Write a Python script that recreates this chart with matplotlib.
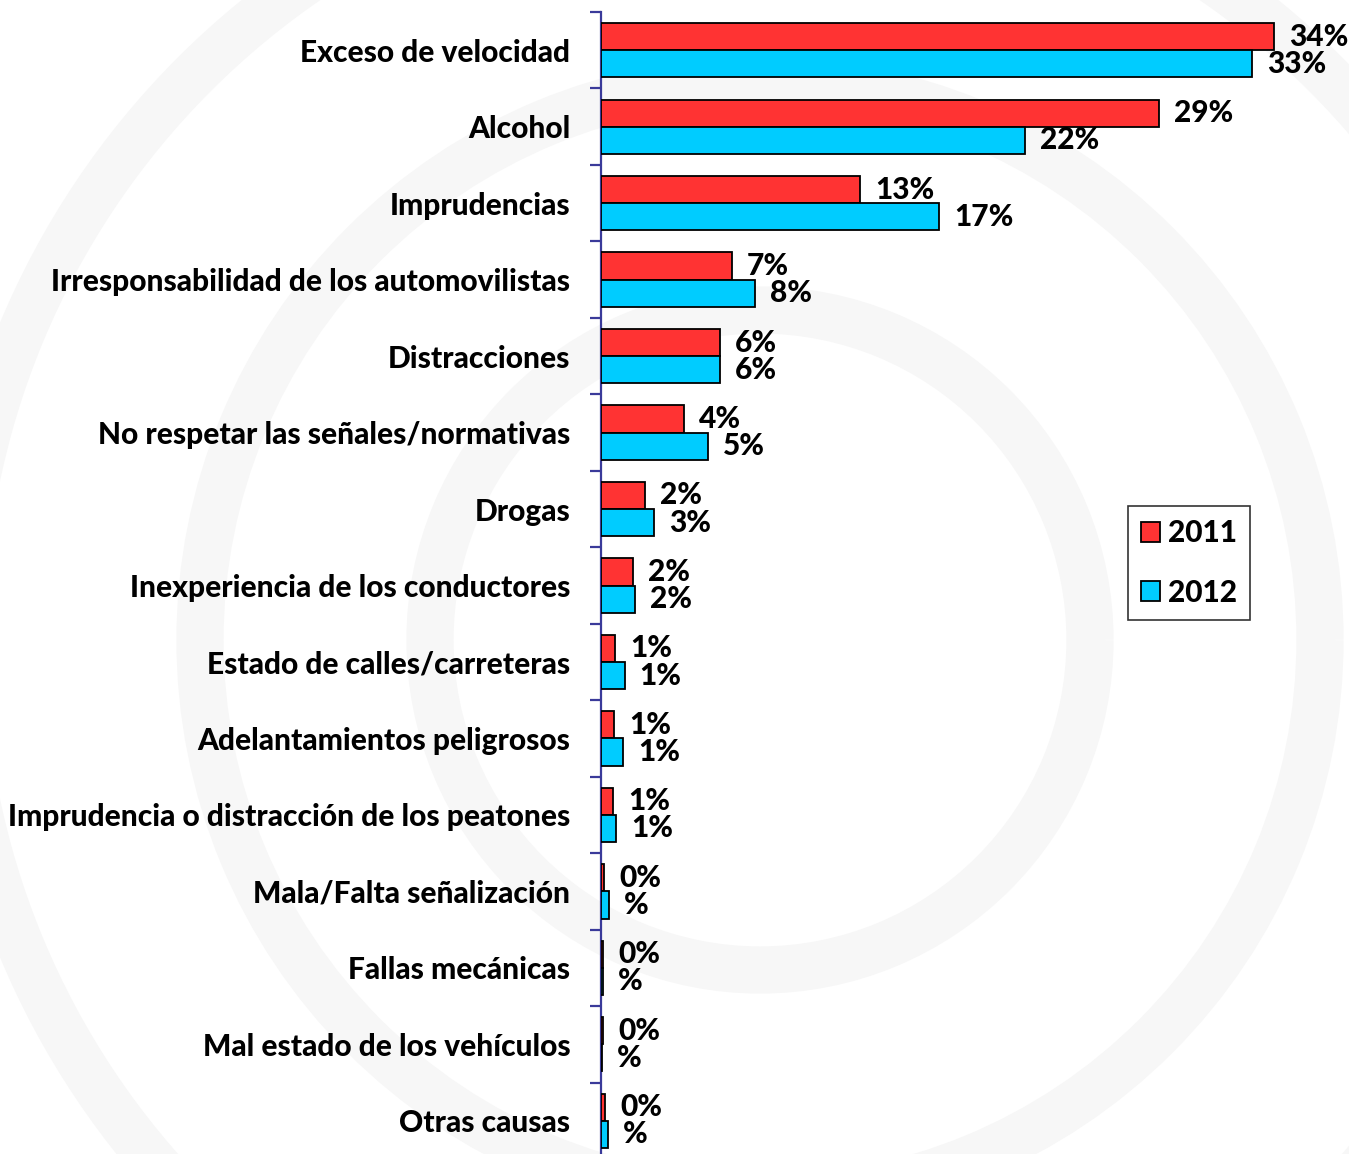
import matplotlib
matplotlib.use("Agg")
import matplotlib.pyplot as plt
from matplotlib.patches import Arc, Patch
import numpy as np

categories = [
    "Exceso de velocidad",
    "Alcohol",
    "Imprudencias",
    "Irresponsabilidad de los automovilistas",
    "Distracciones",
    "No respetar las señales/normativas",
    "Drogas",
    "Inexperiencia de los conductores",
    "Estado de calles/carreteras",
    "Adelantamientos peligrosos",
    "Imprudencia o distracción de los peatones",
    "Mala/Falta señalización",
    "Fallas mecánicas",
    "Mal estado de los vehículos",
    "Otras causas",
]
values_2011 = [34.0, 28.2, 13.1, 6.6, 6.0, 4.2, 2.2, 1.6, 0.7, 0.65, 0.6, 0.15, 0.1, 0.1, 0.2]
values_2012 = [32.9, 21.4, 17.1, 7.8, 6.0, 5.4, 2.7, 1.7, 1.2, 1.1, 0.75, 0.4, 0.1, 0.05, 0.35]
labels_2011 = ["34%", "29%", "13%", "7%", "6%", "4%", "2%", "2%", "1%", "1%", "1%", "0%", "0%", "0%", "0%"]
labels_2012 = ["33%", "22%", "17%", "8%", "6%", "5%", "3%", "2%", "1%", "1%", "1%", "%", "%", "%", "%"]
series_names = ["2011", "2012"]

RED = "#FF3333"
CYAN = "#00CCFF"
SPINE = "#3A3A9A"
FONT = "Lato"
WEIGHT = 900
FS = 21.5

W, H = 1349, 1154
fig = plt.figure(figsize=(W / 100, H / 100), dpi=100)
fig.patch.set_facecolor("white")

# faint watermark rings in the background
bg = fig.add_axes([0, 0, 1, 1], zorder=-10)
bg.set_xlim(0, W)
bg.set_ylim(H, 0)
bg.axis("off")
for r in [330, 560, 800]:
    bg.add_patch(Arc((760, 640), 2 * r, 2 * r, theta1=0, theta2=360,
                     color="#f7f7f7", lw=34))

left_px, right_px = 601, 1349
top_px, bot_px = 12, 1159
ax = fig.add_axes([left_px / W, 1 - bot_px / H, (right_px - left_px) / W, (bot_px - top_px) / H])
ax.patch.set_alpha(0)

n = len(categories)
y = np.arange(n)
bh = 0.355
ax.barh(y - bh / 2, values_2011, height=bh, color=RED, edgecolor="black", linewidth=1.3, zorder=3)
ax.barh(y + bh / 2, values_2012, height=bh, color=CYAN, edgecolor="black", linewidth=1.3, zorder=3)

ax.set_xlim(0, (right_px - left_px) / ((1274 - 601) / 34.0))
ax.set_ylim(n - 0.5, -0.5)

for i in range(n):
    ax.annotate(labels_2011[i], (values_2011[i], y[i] - bh / 2), xytext=(15, 0),
                textcoords="offset pixels", va="center", ha="left",
                fontsize=FS, fontweight=WEIGHT, family=FONT)
    ax.annotate(labels_2012[i], (values_2012[i], y[i] + bh / 2), xytext=(15, 0),
                textcoords="offset pixels", va="center", ha="left",
                fontsize=FS, fontweight=WEIGHT, family=FONT)

for s in ["top", "right", "bottom"]:
    ax.spines[s].set_visible(False)
ax.spines["left"].set_color(SPINE)
ax.spines["left"].set_linewidth(1.6)
ax.set_xticks([])
ax.set_yticks(y)
ax.set_yticklabels(categories, fontsize=FS, fontweight=WEIGHT, family=FONT)
ax.tick_params(axis="y", which="major", length=0, pad=22)
ax.set_yticks(np.arange(-0.5, n + 0.5, 1), minor=True)
ax.tick_params(axis="y", which="minor", length=8, width=1.6, color=SPINE)

handles = [Patch(facecolor=RED, edgecolor="black", linewidth=1.3),
           Patch(facecolor=CYAN, edgecolor="black", linewidth=1.3)]
leg = fig.legend(handles, series_names, loc="center",
                 bbox_to_anchor=(1189 / W, 1 - 563 / H),
                 prop={"family": FONT, "weight": WEIGHT, "size": FS},
                 frameon=True, fancybox=False, edgecolor="black",
                 handlelength=0.65, handleheight=0.65, handletextpad=0.25,
                 labelspacing=1.05, borderpad=0.45, borderaxespad=0)
leg.get_frame().set_linewidth(1.2)

fig.savefig("out.png", dpi=100, facecolor="white")
